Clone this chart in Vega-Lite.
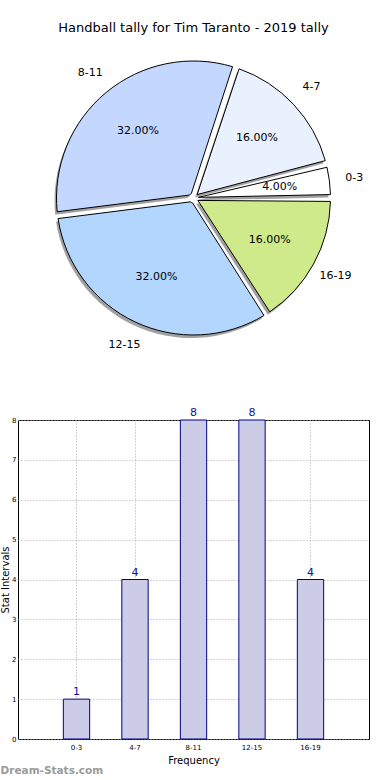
{
  "$schema": "https://vega.github.io/schema/vega-lite/v6.json",
  "padding": {"top": 22, "left": 0, "right": 0, "bottom": 0},
  "autosize": {"type": "pad"},
  "spacing": 54,
  "config": {
    "font": "DejaVu Sans",
    "view": {"stroke": "black", "strokeWidth": 1},
    "axis": {"labelColor": "black", "titleColor": "black", "labelFont": "DejaVu Sans", "titleFont": "DejaVu Sans"}
  },
  "datasets": {
    "tally": [
      {"range": "0-3", "count": 1, "pct": "4.00%", "idx": 0},
      {"range": "4-7", "count": 4, "pct": "16.00%", "idx": 1},
      {"range": "8-11", "count": 8, "pct": "32.00%", "idx": 2},
      {"range": "12-15", "count": 8, "pct": "32.00%", "idx": 3},
      {"range": "16-19", "count": 4, "pct": "16.00%", "idx": 4}
    ]
  },
  "vconcat": [
    {
      "width": 351,
      "height": 308,
      "view": {"stroke": null},
      "title": {"text": "Handball tally for Tim Taranto - 2019 tally", "fontSize": 13, "fontWeight": "normal", "color": "black", "offset": 9},
      "data": {"name": "tally"},
      "encoding": {
        "theta": {"field": "count", "type": "quantitative", "stack": true, "scale": {"domain": [0, 25], "range": [1.5708, -4.7124]}},
        "order": {"field": "idx", "type": "quantitative"}
      },
      "layer": [
        {
          "mark": {"type": "arc", "innerRadius": 5, "outerRadius": 137, "padAngle": 0.05, "fill": "#444444", "fillOpacity": 0.5, "xOffset": -2, "yOffset": 3}
        },
        {
          "mark": {"type": "arc", "innerRadius": 5, "outerRadius": 137, "padAngle": 0.05, "stroke": "black", "strokeWidth": 1},
          "encoding": {
            "color": {"field": "range", "type": "nominal", "legend": null,
              "scale": {"domain": ["0-3", "4-7", "8-11", "12-15", "16-19"], "range": ["#ffffff", "#eaf1fe", "#c4d8ff", "#b3d6ff", "#cfea8b"]}}
          }
        },
        {
          "mark": {"type": "text", "radius": 87, "fontSize": 11, "color": "black"},
          "encoding": {"text": {"field": "pct"}}
        },
        {
          "mark": {"type": "text", "radius": 162, "fontSize": 11, "color": "black"},
          "encoding": {"text": {"field": "range"}}
        }
      ]
    },
    {
      "width": 351,
      "height": 319,
      "data": {"name": "tally"},
      "title": {"text": "Dream-Stats.com", "orient": "bottom", "anchor": "start", "frame": "bounds", "fontSize": 10.5, "fontWeight": "bold", "color": "#9a9a9a", "offset": 1},
      "encoding": {
        "x": {"field": "range", "type": "nominal", "sort": null,
          "scale": {"paddingInner": 0.55, "paddingOuter": 0.775},
          "axis": {"labelAngle": 0, "labelFontSize": 7, "ticks": false, "labelPadding": 4, "domain": false,
            "grid": true, "gridDash": [1, 2], "gridColor": "#a8a8a8", "bandPosition": 0.5,
            "title": "Frequency", "titleFontSize": 10, "titleFontWeight": "normal", "titlePadding": 5}},
        "y": {"field": "count", "type": "quantitative", "scale": {"domain": [0, 8], "nice": false},
          "axis": {"values": [0, 1, 2, 3, 4, 5, 6, 7, 8], "labelFontSize": 7, "ticks": false, "labelPadding": 2, "domain": false,
            "grid": true, "gridDash": [1, 2], "gridColor": "#a8a8a8",
            "title": "Stat Intervals", "titleFontSize": 10, "titleFontWeight": "normal", "titlePadding": 1}}
      },
      "layer": [
        {"mark": {"type": "bar", "fill": "#ccccE6", "stroke": "#00008b", "strokeWidth": 1}},
        {"mark": {"type": "text", "baseline": "bottom", "dy": -2, "fontSize": 11, "color": "#10109a"},
          "encoding": {"text": {"field": "count", "type": "quantitative"}}}
      ]
    }
  ]
}
